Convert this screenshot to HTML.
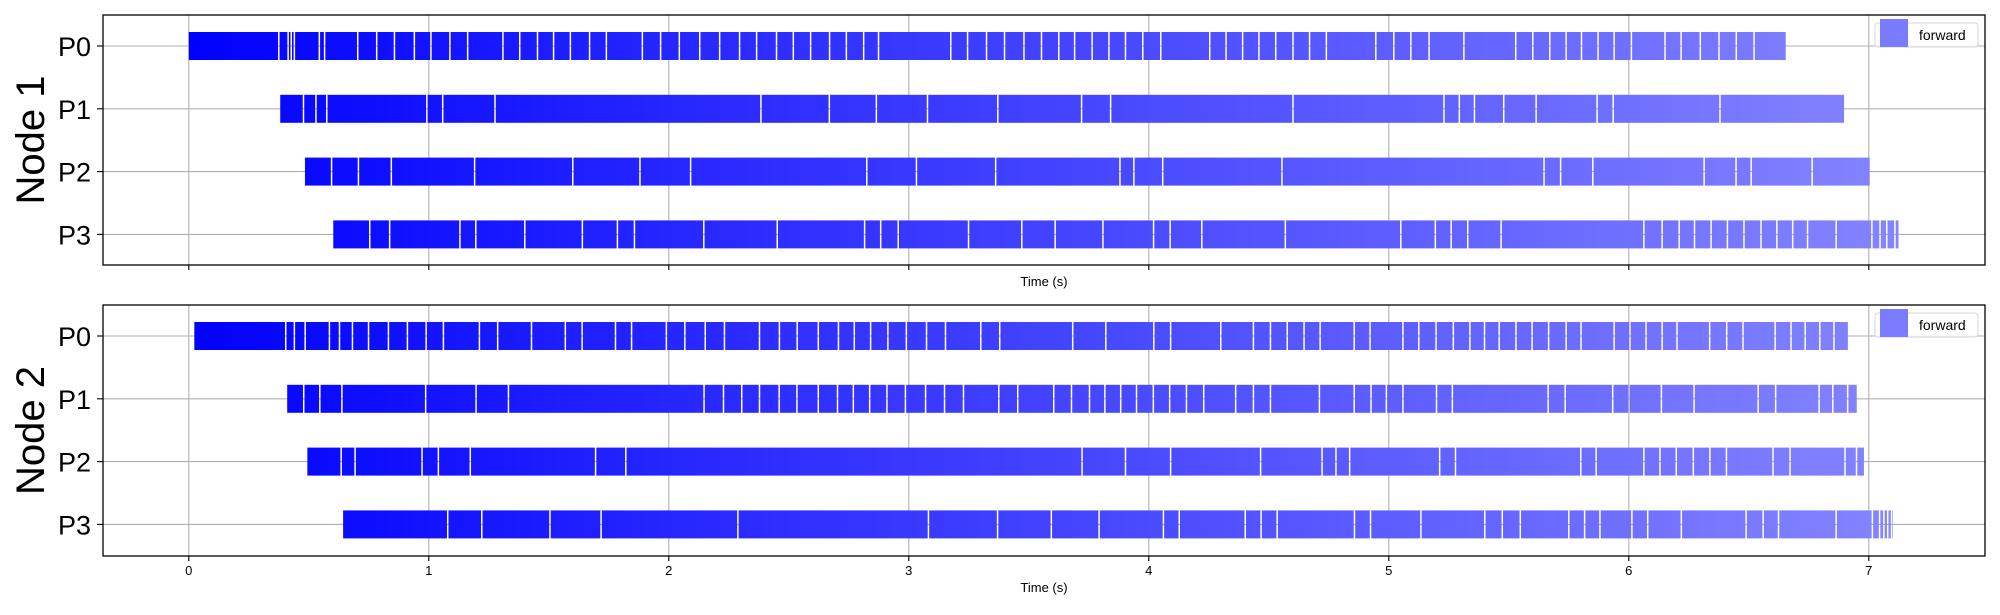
<!DOCTYPE html>
<html><head><meta charset="utf-8">
<style>
html,body{margin:0;padding:0;background:#fff;}
svg{display:block;font-family:"Liberation Sans","DejaVu Sans",sans-serif;}
</style></head>
<body>
<svg id="chart" width="2000" height="615" viewBox="0 0 2000 615" xmlns="http://www.w3.org/2000/svg">
<defs>
<linearGradient id="grad" gradientUnits="userSpaceOnUse" x1="189" y1="0" x2="1900" y2="0">
<stop offset="0" stop-color="#0000ff"/>
<stop offset="1" stop-color="#8585ff"/>
</linearGradient>
</defs>
</svg>
<script>
const xTicks = [0,1,2,3,4,5,6,7];
const procLabels = ["P0","P1","P2","P3"];
const nodeLabels = ["Node 1","Node 2"];
const n1p0 = [0,.378,.417,.430,.443,.547,.569,.707,.786,.860,.943,1.012,1.091,1.165,1.312,1.382,1.456,1.523,1.593,1.673,1.743,1.893,1.969,2.047,2.132,2.215,2.298,2.369,2.452,2.522,2.594,2.673,2.743,2.815,2.877,3.178,3.248,3.327,3.402,3.483,3.556,3.628,3.694,3.767,3.837,3.906,3.978,4.053,4.257,4.325,4.394,4.462,4.532,4.604,4.673,4.743,4.949,5.024,5.095,5.171,5.316,5.532,5.603,5.674,5.742,5.806,5.875,5.942,6.014,6.154,6.221,6.301,6.379,6.451,6.525,6.660];
const n1p1 = [.381,.481,.533,.578,.995,1.061,1.279,2.387,2.672,2.868,3.081,3.374,3.723,3.844,4.604,5.233,5.297,5.360,5.482,5.617,5.871,5.938,6.383,6.903];
const n1p2 = [.484,.598,.710,.847,1.194,1.603,1.883,2.094,2.828,3.035,3.365,3.883,3.941,4.061,4.558,5.650,5.719,5.853,6.317,6.450,6.513,6.767,7.010];
const n1p3 = [.602,.757,.840,1.133,1.199,1.403,1.643,1.789,1.860,2.149,2.455,2.819,2.886,2.959,3.252,3.474,3.613,3.812,4.023,4.092,4.224,4.572,5.053,5.197,5.263,5.332,5.471,6.066,6.142,6.213,6.277,6.346,6.414,6.483,6.554,6.620,6.686,6.748,6.867,7.016,7.050,7.078,7.112,7.130];
const n2p0 = [.023,.407,.443,.488,.589,.631,.685,.752,.835,.914,.992,1.064,1.214,1.290,1.431,1.572,1.642,1.781,1.848,1.993,2.070,2.155,2.235,2.381,2.464,2.538,2.626,2.710,2.776,2.844,2.916,2.993,3.077,3.156,3.303,3.382,3.686,3.824,4.024,4.094,4.303,4.439,4.510,4.580,4.650,4.717,4.859,4.925,5.062,5.128,5.200,5.272,5.341,5.402,5.463,5.533,5.600,5.669,5.742,5.804,5.942,6.008,6.075,6.142,6.204,6.340,6.411,6.479,6.613,6.679,6.738,6.799,6.858,6.919];
const n2p1 = [.410,.482,.549,.641,.990,1.200,1.335,2.150,2.231,2.307,2.381,2.463,2.537,2.626,2.706,2.772,2.840,2.912,2.989,3.073,3.152,3.231,3.378,3.457,3.607,3.681,3.756,3.820,3.886,3.952,4.022,4.090,4.160,4.232,4.365,4.439,4.510,4.714,4.859,4.929,4.993,5.062,5.202,5.268,5.667,5.738,5.936,6.004,6.139,6.275,6.542,6.615,6.796,6.853,6.915,6.956];
const n2p2 = [.494,.638,.696,.975,1.043,1.176,1.698,1.824,3.725,3.906,4.094,4.469,4.725,4.783,4.840,5.215,5.281,5.803,5.867,6.066,6.133,6.201,6.272,6.341,6.410,6.604,6.675,6.904,6.952,6.986];
const n2p3 = [.643,1.082,1.224,1.508,1.721,2.291,3.085,3.373,3.597,3.796,4.064,4.130,4.405,4.471,4.538,4.860,4.927,5.137,5.403,5.476,5.551,5.753,5.819,5.883,6.016,6.082,6.222,6.492,6.563,6.627,6.867,7.018,7.048,7.066,7.082,7.098,7.105];
const node1Rows = [n1p0,n1p1,n1p2,n1p3];
const node2Rows = [n2p0,n2p1,n2p2,n2p3];

const NS = "http://www.w3.org/2000/svg";
const svg = document.getElementById("chart");
const L = 103, R = 1985;
function xs(t){ return 188.8 + t*240; }
function mk(tag, attrs, parent){
  const e = document.createElementNS(NS, tag);
  for (const k in attrs) e.setAttribute(k, attrs[k]);
  (parent||svg).appendChild(e);
  return e;
}
function drawPanel(top, bottom, rows, nodeName, idx){
  const g = mk("g", {});
  
  
  const ys = i => top + 31 + i*62.8;
  // grid
  xTicks.forEach(t => {
    const gl = mk("line", {x1:xs(t), x2:xs(t), y1:top, y2:bottom, stroke:"#b0b0b0", "stroke-width":1.1}, g);
    
    
  });
  procLabels.forEach((p,i) => {
    const gl = mk("line", {x1:L, x2:R, y1:ys(i), y2:ys(i), stroke:"#b0b0b0", "stroke-width":1.1}, g);
    
    
  });
  // bars
  rows.forEach((b,i) => {
    for (let k=0; k<b.length-1; k++){
      const x0 = xs(b[k]), x1 = xs(b[k+1]);
      const r = mk("rect", {x:x0, y:ys(i)-14, width:Math.max(0.6, x1-x0-1.5), height:28, fill:"url(#grad)"}, g);
      
      
    }
  });
  // frame
  const fr = mk("rect", {x:L, y:top, width:R-L, height:bottom-top, fill:"none", stroke:"#000", "stroke-width":1.3}, g);
  
  
  // x ticks
  xTicks.forEach(t => {
    const tk = mk("line", {x1:xs(t), x2:xs(t), y1:bottom, y2:bottom+5, stroke:"#000", "stroke-width":1.1}, g);
    
    
    if (idx === 1){
      const tl = mk("text", {x:xs(t), y:bottom+19, "font-size":13, "text-anchor":"middle", fill:"#000"}, g);
      tl.textContent = t;
      
      
    }
  });
  const xt = mk("text", {x:(L+R)/2, y:bottom+21+(idx===1?15:0), "font-size":13, "text-anchor":"middle", fill:"#000"}, g);
  xt.textContent = "Time (s)";
  
  
  // y ticks
  procLabels.forEach((p,i) => {
    const tk = mk("line", {x1:L-6, x2:L, y1:ys(i), y2:ys(i), stroke:"#000", "stroke-width":1.1}, g);
    
    
    const tl = mk("text", {x:L-12, y:ys(i)+10, "font-size":27, "text-anchor":"end", fill:"#000"}, g);
    tl.textContent = p;
    
    
  });
  const cy = (top+bottom)/2;
  const yt = mk("text", {x:0, y:0, "font-size":40, "text-anchor":"middle", fill:"#000", transform:"translate(44,"+cy+") rotate(-90)"}, g);
  yt.textContent = nodeName;
  
  
  // legend
  const lg = mk("g", {}, g);
  
  
  mk("rect", {x:1875, y:top+8, width:103, height:24, rx:3, fill:"#fff", "fill-opacity":0.85, stroke:"#d6d6d6", "stroke-width":1}, lg);
  const sw = mk("rect", {x:1880, y:top+4, width:28, height:28, fill:"#7b7bff"}, lg);
  
  
  const lt = mk("text", {x:1919, y:top+25, "font-size":14, fill:"#000"}, lg);
  lt.textContent = "forward";
  
  
}
drawPanel(15, 265, node1Rows, nodeLabels[0], 0);
drawPanel(305, 556, node2Rows, nodeLabels[1], 1);
</script>
</body></html>
